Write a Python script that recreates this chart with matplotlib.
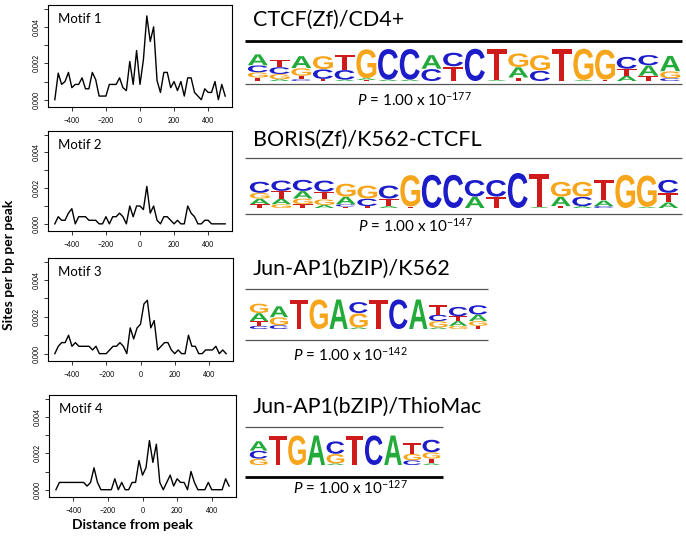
#! /usr/bin/env python3
# Motif distribution around peaks + HOMER style sequence logos

import numpy as np
import matplotlib
matplotlib.use("Agg")
import matplotlib.pyplot as plt
from matplotlib.textpath import TextPath
from matplotlib.font_manager import FontProperties
from matplotlib.patches import PathPatch
from matplotlib.transforms import Affine2D

plt.rcParams['font.family'] = ['Lato', 'DejaVu Sans']
plt.rcParams['mathtext.fontset'] = 'custom'
plt.rcParams['mathtext.rm'] = 'Lato'
plt.rcParams['mathtext.it'] = 'Lato:italic'

W, H = 686, 538

### data ######################################################################
dist = np.arange(-500, 501, 20)

motif1 = [0, .00146, .00084, .001, .0015, .00066, .00084, .00084, .0012, .0006,
          .0006, .0015, .0011, .0002, .0002, .0002, .00084, .00084, .00084, .0012,
          .00066, .0005, .0021, .00084, .0027, .00084, .0022, .0046, .0032, .004,
          .00105, .0004, .0015, .0015, .00066, .001, .0005, .001, .0002, .0012,
          .0012, .0004, .0002, 0, .0006, .0004, .0004, .001, 0, .00084, .0002]
motif2 = [0, .0004, .0002, .0002, .0006, .00085, 0, .0004, .0004, .0004,
          .0002, .0002, .0002, 0, 0, .0004, 0, .0004, .0004, .0006,
          .0004, 0, .001, .0004, .001, .001, .0008, .0021, .0006, .001,
          .0002, 0, .0004, .0004, .0002, 0, .0002, 0, 0, .001,
          .0006, .0004, 0, 0, .0002, .0002, 0, 0, 0, 0, 0]
motif3 = [0, .0004, .0006, .0006, .001, .0004, .0006, .0004, .0004, .0004,
          .0004, .0002, .0004, 0, 0, 0, .0002, .0004, .0004, .0006,
          .0004, 0, .0014, .0008, .0014, .0016, .0027, .0029, .0014, .0018,
          .0002, .0004, .0006, .0006, .0002, 0, .0002, 0, 0, .001,
          .0004, .0004, 0, 0, .0002, .0002, .0002, .0004, 0, .0002, 0]
motif4 = [0, .0004, .0004, .0004, .0004, .0004, .0004, .0004, .0004, .0002,
          .0004, .0012, .0004, 0, 0, 0, 0, .0006, 0, .0004,
          0, 0, .0004, .0004, .0016, .0008, .0012, .0027, .0015, .0025,
          .0004, 0, .0004, .0008, .0002, .0006, .0004, .0004, 0, .001,
          .0004, 0, 0, 0, .0004, 0, 0, 0, 0, .0006, .0002]
motif_names = ["Motif 1", "Motif 2", "Motif 3", "Motif 4"]

titles = ["CTCF(Zf)/CD4+", "BORIS(Zf)/K562-CTCFL",
          "Jun-AP1(bZIP)/K562", "Jun-AP1(bZIP)/ThioMac"]
p_exponents = ["-177", "-147", "-142", "-127"]

# each position: letters from top to bottom, (letter, height as fraction)
logo_ctcf = [
    [("A", .32), ("C", .2), ("G", .15), ("T", .1)],
    [("T", .22), ("C", .2), ("G", .15), ("A", .05)],
    [("A", .35), ("G", .22), ("T", .1), ("C", .05)],
    [("G", .38), ("C", .28), ("T", .06)],
    [("T", .45), ("C", .28), ("A", .04)],
    [("G", .85), ("A", .05), ("T", .03)],
    [("C", .9), ("A", .04)],
    [("C", .9), ("A", .04)],
    [("A", .4), ("C", .35)],
    [("C", .4), ("T", .42)],
    [("C", .95)],
    [("T", .92), ("A", .03)],
    [("G", .4), ("A", .3), ("T", .1)],
    [("G", .45), ("C", .3)],
    [("T", .95)],
    [("G", .92), ("A", .03)],
    [("G", .88), ("T", .04)],
    [("C", .35), ("T", .2), ("A", .15)],
    [("C", .3), ("A", .3), ("T", .15)],
    [("A", .45), ("G", .2), ("C", .08)],
]
logo_boris = [
    [("C", .3), ("G", .15), ("A", .15), ("T", .1)],
    [("C", .28), ("T", .2), ("A", .15), ("G", .1)],
    [("C", .3), ("A", .2), ("G", .15), ("T", .1)],
    [("C", .3), ("T", .2), ("G", .15), ("A", .08)],
    [("G", .35), ("A", .2), ("C", .06), ("T", .04)],
    [("G", .35), ("C", .2), ("T", .05)],
    [("C", .35), ("T", .2), ("A", .05)],
    [("G", .85), ("T", .04)],
    [("C", .9)],
    [("C", .9)],
    [("C", .45), ("A", .3)],
    [("C", .45), ("T", .3)],
    [("C", .95)],
    [("T", .9), ("A", .03)],
    [("G", .4), ("A", .25), ("T", .05)],
    [("G", .4), ("C", .25), ("A", .05)],
    [("T", .55), ("A", .15), ("C", .05)],
    [("G", .9)],
    [("G", .85), ("A", .03)],
    [("C", .35), ("T", .25), ("A", .15)],
]
logo_jun_k562 = [
    [("G", .3), ("A", .25), ("T", .15), ("C", .1)],
    [("A", .35), ("G", .25), ("C", .12)],
    [("T", .95)],
    [("G", .95)],
    [("A", .95)],
    [("C", .35), ("G", .45), ("A", .05)],
    [("T", .95)],
    [("C", .95)],
    [("A", .95)],
    [("T", .3), ("C", .2), ("G", .2), ("A", .05)],
    [("C", .3), ("T", .15), ("A", .15), ("G", .1)],
    [("C", .3), ("A", .2), ("G", .15), ("T", .1)],
]
logo_jun_thio = [
    [("A", .3), ("C", .25), ("G", .2)],
    [("T", .95)],
    [("G", .95)],
    [("A", .95)],
    [("C", .4), ("G", .3), ("A", .05)],
    [("T", .95)],
    [("C", .95)],
    [("A", .95)],
    [("T", .35), ("G", .2), ("C", .15)],
    [("C", .4), ("G", .2), ("T", .15), ("A", .05)],
]

### helpers ###################################################################
base_colors = {"A": "#22aa3a", "C": "#1c1cc9", "G": "#f7a51a", "T": "#d01b1b"}
letter_font = FontProperties(family="Liberation Sans", weight="bold")


def box(x0, y0, x1, y1):
    # pixel box (from top-left) -> figure fraction rect
    return [x0 / W, 1 - y1 / H, (x1 - x0) / W, (y1 - y0) / H]


def draw_letter(ax, ch, x, y, w, h):
    tp = TextPath((0, 0), ch, size=1, prop=letter_font)
    bb = tp.get_extents()
    tr = (Affine2D().translate(-bb.x0, -bb.y0)
          .scale(w / bb.width, h / bb.height).translate(x, y))
    ax.add_patch(PathPatch(tr.transform_path(tp), fc=base_colors[ch],
                           ec="none", lw=0))


def draw_logo(ax, stacks):
    for i, stack in enumerate(stacks):
        y = 0
        for ch, h in reversed(stack):
            draw_letter(ax, ch, i + 0.04, y, 0.92, h * 0.97)
            y += h
    ax.set_xlim(0, len(stacks))
    ax.set_ylim(0, 1)
    ax.axis("off")


### figure ####################################################################
fig = plt.figure(figsize=(W / 100, H / 100), dpi=100)

panel_boxes = [(48, 5, 232, 107), (48, 131, 232, 231),
               (48, 258, 233, 361), (49, 395, 236, 497)]
series = [motif1, motif2, motif3, motif4]

for pb, ys, name in zip(panel_boxes, series, motif_names):
    ax = fig.add_axes(box(*pb))
    ax.plot(dist, ys, color="black", lw=1.0)
    ax.set_xlim(-540, 540)
    ax.set_ylim(-0.0004, 0.0052)
    ax.set_xticks([-400, -200, 0, 200, 400])
    ax.set_yticks([0, .001, .002, .003, .004, .005])
    ax.set_yticklabels(["0.000", "", "0.002", "", "0.004", ""],
                       rotation=90, va="center")
    ax.tick_params(labelsize=5, length=3, width=0.7, pad=4, color="#333333")
    ax.tick_params(axis="y", pad=3)
    for s in ax.spines.values():
        s.set_linewidth(0.8)
    ax.text(0.055, 0.86, name, transform=ax.transAxes, fontsize=9.5,
            va="center", ha="left")

fig.text(9 / W, 1 - 265 / H, "Sites per bp per peak", rotation=90,
         fontsize=10, fontweight="bold", ha="center", va="center")
fig.text(132 / W, 1 - 525 / H, "Distance from peak", fontsize=10,
         fontweight="bold", ha="center", va="center")

# overlay in pixel units for titles, rules and p-values
ov = fig.add_axes([0, 0, 1, 1], zorder=-1)
ov.set_xlim(0, W)
ov.set_ylim(H, 0)
ov.axis("off")

logos = [logo_ctcf, logo_boris, logo_jun_k562, logo_jun_thio]
logo_boxes = [(247, 46, 681, 81), (249, 170, 679, 208),
              (249, 297, 488, 329), (249, 433, 441, 465)]
title_y = [20, 140, 269, 407]
rule_top = [(41, 245, 682, 2.0, "black"), (158, 245, 682, 0.9, "#555555"),
            (289, 245, 488, 0.9, "#555555"), (427, 245, 443, 0.9, "#555555")]
rule_bot = [(84, 245, 682, 0.9, "#555555"), (214, 245, 682, 0.9, "#555555"),
            (340, 245, 488, 0.9, "#555555"), (477, 245, 443, 2.0, "black")]
p_pos = [(414, 100), (415, 226), (350, 355), (350, 488)]

for i in range(4):
    lax = fig.add_axes(box(*logo_boxes[i]))
    draw_logo(lax, logos[i])
    ov.text(253, title_y[i], titles[i], fontsize=15.5, ha="left", va="center")
    for y, x0, x1, lw, c in (rule_top[i], rule_bot[i]):
        ov.plot([x0, x1], [y, y], color=c, lw=lw, solid_capstyle="butt")
    ov.text(p_pos[i][0], p_pos[i][1],
            r"$\mathit{P}$ = 1.00 x 10$^{%s}$" % p_exponents[i],
            fontsize=11, ha="center", va="center")

fig.savefig("out.png", dpi=100)
